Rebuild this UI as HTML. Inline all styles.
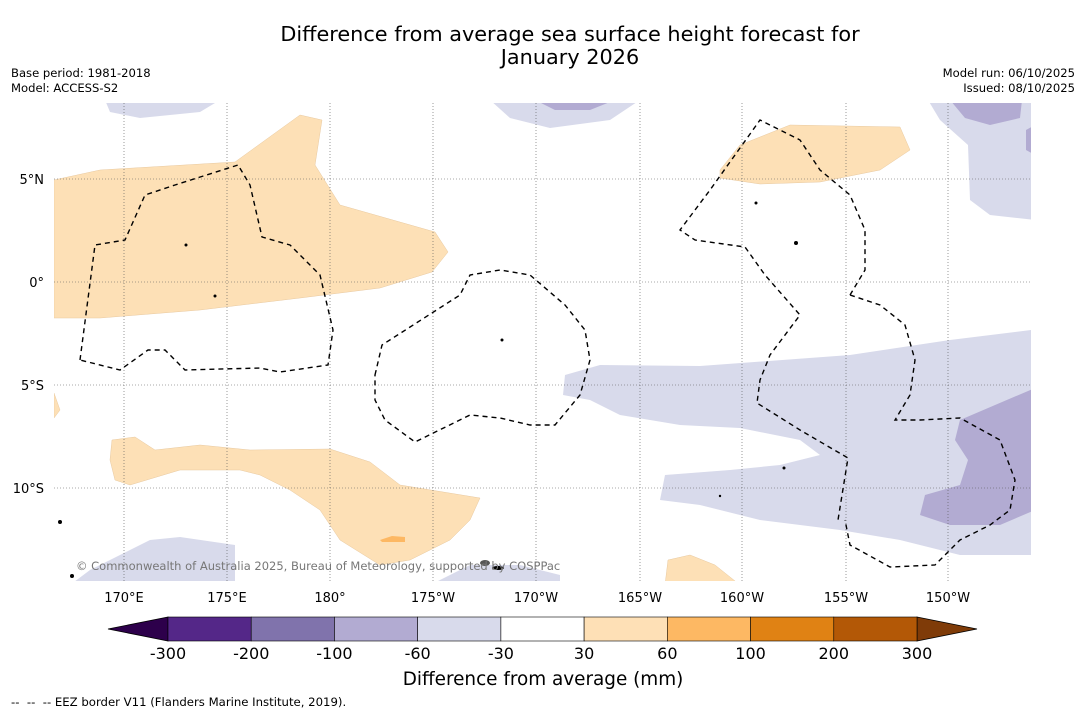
<!DOCTYPE html>
<html><head><meta charset="utf-8"><style>
body{margin:0;background:#fff;font-family:"Liberation Sans","DejaVu Sans",sans-serif;}
svg text{font-family:"DejaVu Sans","Liberation Sans",sans-serif;}
</style></head><body>
<svg width="1085" height="713" viewBox="0 0 1085 713">
<rect width="1085" height="713" fill="#fff"/>
<text x="570" y="41" font-size="20.8" text-anchor="middle">Difference from average sea surface height forecast for</text>
<text x="570" y="64" font-size="20.8" text-anchor="middle">January 2026</text>
<text x="11" y="77" font-size="11.6">Base period: 1981-2018</text>
<text x="11" y="92" font-size="11.6">Model: ACCESS-S2</text>
<text x="1075" y="77" font-size="11.6" text-anchor="end">Model run: 06/10/2025</text>
<text x="1075" y="92" font-size="11.6" text-anchor="end">Issued: 08/10/2025</text>
<defs><clipPath id="mc"><rect x="54" y="103" width="977" height="478"/></clipPath></defs>
<g clip-path="url(#mc)">
<g fill="#fde0b6" stroke="#e8c9a0" stroke-width="0.5">
<polygon points="54,180 100,170 235,162 300,115 322,120 315,165 340,205 435,232 448,252 432,272 380,288 300,298 200,310 100,318 54,318"/>
<polygon points="112,440 135,437 155,450 200,445 250,450 330,449 370,462 400,485 480,498 470,520 450,540 410,560 380,565 340,540 320,510 290,490 260,475 240,470 180,470 130,485 115,480 110,460"/>
<polygon points="54,393 60,410 54,418"/>
<polygon points="720,170 740,145 790,125 900,127 910,150 880,170 820,182 760,184 720,178"/>
<polygon points="665,585 668,560 690,555 715,565 740,585"/>
</g>
<polygon points="380,540 392,536 405,537 405,542 382,542" fill="#fdb863"/>
<g fill="#d8daeb">
<polygon points="565,375 600,365 700,366 850,355 950,340 1031,330 1031,555 960,555 900,540 840,530 760,520 700,505 660,500 665,475 730,470 780,465 820,455 800,440 740,428 680,425 620,415 590,400 563,395"/>
<polygon points="105,100 220,100 200,112 140,118 110,112"/>
<polygon points="490,100 640,100 610,120 550,128 510,118"/>
<polygon points="928,100 1035,100 1035,220 990,215 970,200 968,145 940,120"/>
<polygon points="70,585 90,570 150,540 180,537 235,545 235,585"/>
<polygon points="430,585 470,565 520,565 560,575 560,585"/>
</g>
<g fill="#b2abd2">
<polygon points="960,420 1035,388 1035,510 1000,525 950,525 920,515 925,495 960,485 968,460 955,440"/>
<polygon points="535,100 615,100 590,110 555,110"/>
<polygon points="950,100 1022,100 1020,118 990,125 965,118"/>
<polygon points="1026,130 1035,125 1035,155 1026,150"/>
</g>
<g stroke="#555" stroke-width="0.6" stroke-dasharray="1,2">
<line x1="124" y1="103" x2="124" y2="581"/><line x1="227" y1="103" x2="227" y2="581"/><line x1="330" y1="103" x2="330" y2="581"/><line x1="433" y1="103" x2="433" y2="581"/><line x1="536" y1="103" x2="536" y2="581"/><line x1="640" y1="103" x2="640" y2="581"/><line x1="742" y1="103" x2="742" y2="581"/><line x1="846" y1="103" x2="846" y2="581"/><line x1="948" y1="103" x2="948" y2="581"/>
<line x1="54" y1="179" x2="1031" y2="179"/><line x1="54" y1="282" x2="1031" y2="282"/><line x1="54" y1="385" x2="1031" y2="385"/><line x1="54" y1="488" x2="1031" y2="488"/>
</g>
<g fill="none" stroke="#000" stroke-width="1.4" stroke-dasharray="5,4">
<polygon points="80,360 95,245 125,240 145,195 175,185 238,165 250,185 262,237 290,245 320,275 333,330 328,365 280,372 260,368 185,370 165,350 148,350 120,370"/>
<polygon points="375,375 382,345 460,295 470,275 500,270 530,275 565,305 585,330 590,360 580,395 555,425 530,425 500,418 470,415 415,442 385,420 375,400"/>
<polyline points="850,295 865,270 865,230 850,195 820,170 800,140 760,120 710,190 680,230 695,240 745,247 765,275 800,315 770,355 760,380 757,403 800,430 848,458 838,520"/>
<polyline points="850,295 880,305 905,325 915,360 910,395 895,420 920,420 960,418 1000,440 1015,480 1010,510 990,525 960,540 935,565 890,567 850,545 845,520"/>
</g>
<g fill="#000">
<circle cx="60" cy="522" r="2"/><circle cx="72" cy="576" r="2"/><circle cx="186" cy="245" r="1.5"/><circle cx="215" cy="296" r="1.5"/><circle cx="502" cy="340" r="1.5"/><circle cx="756" cy="203" r="1.5"/><circle cx="796" cy="243" r="2"/><circle cx="784" cy="468" r="1.5"/><circle cx="720" cy="496" r="1.2"/><ellipse cx="498" cy="568" rx="6" ry="2"/><ellipse cx="485" cy="563" rx="5" ry="3" fill="#555"/>
</g>
<text x="76" y="570" font-size="11.5" fill="#777">© Commonwealth of Australia 2025, Bureau of Meteorology, supported by COSPPac</text>
</g>
<g font-size="13" fill="#000">
<text x="44" y="184" text-anchor="end">5°N</text><text x="44" y="287" text-anchor="end">0°</text><text x="44" y="390" text-anchor="end">5°S</text><text x="44" y="493" text-anchor="end">10°S</text>
</g>
<g font-size="13" text-anchor="middle">
<text x="124" y="602">170°E</text><text x="227" y="602">175°E</text><text x="330" y="602">180°</text><text x="433" y="602">175°W</text><text x="536" y="602">170°W</text><text x="640" y="602">165°W</text><text x="742" y="602">160°W</text><text x="846" y="602">155°W</text><text x="948" y="602">150°W</text>
</g>
<g id="cb"></g>
<text x="543" y="685" font-size="18.4" text-anchor="middle">Difference from average (mm)</text>
<text x="11" y="706" font-size="11.7" xml:space="preserve">--  --  -- EEZ border V11 (Flanders Marine Institute, 2019).</text>
</svg>
<script>
const cbTicks=["-300","-200","-100","-60","-30","30","60","100","200","300"];
const cbColors=["#542788","#8073ac","#b2abd2","#d8daeb","#ffffff","#fee0b6","#fdb863","#e08214","#b35806"];
const cbUnder="#2d004b", cbOver="#7f3b08";
const ns="http://www.w3.org/2000/svg", g=document.getElementById('cb');
const x0=168,x1=917,y0=617,h=24,w=(x1-x0)/cbColors.length;
function mk(t,a){const e=document.createElementNS(ns,t);for(const k in a)e.setAttribute(k,a[k]);g.appendChild(e);return e;}
let tri=mk('polygon',{points:`${x0},${y0} 108,${y0+h/2} ${x0},${y0+h}`,fill:cbUnder,stroke:'#000','stroke-width':0.8});


tri=mk('polygon',{points:`${x1},${y0} 977,${y0+h/2} ${x1},${y0+h}`,fill:cbOver,stroke:'#000','stroke-width':0.8});


cbColors.forEach((c,i)=>{const r=mk('rect',{x:x0+i*w,y:y0,width:w,height:h,fill:c,stroke:'#000','stroke-width':0.6});

});
cbTicks.forEach((t,i)=>{const e=mk('text',{x:x0+i*w,y:659,'font-size':16,'text-anchor':'middle'});e.textContent=t;

});
</script>
</body></html>
